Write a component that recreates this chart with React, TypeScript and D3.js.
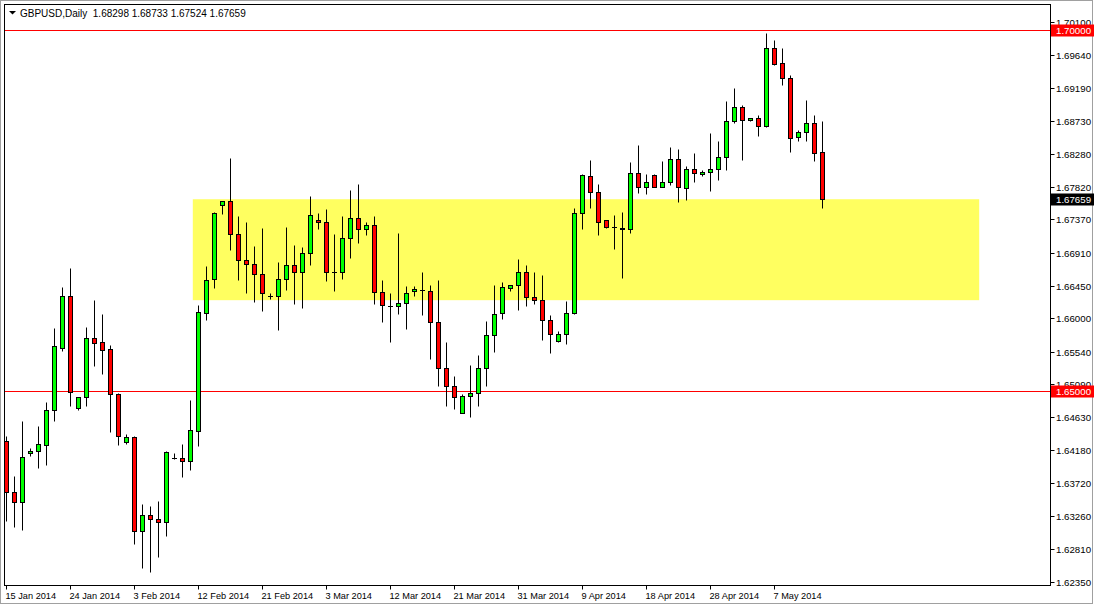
import * as d3 from 'd3'
import React from 'react'

const symbolTitle = 'GBPUSD,Daily'
const lastBar = ['1.68298', '1.68733', '1.67524', '1.67659']

// daily bars, 15 Jan 2014 .. 14 May 2014 (incl. sunday bars)
const opens = [
  1.64304, 1.6359, 1.63451, 1.64129, 1.64157, 1.6424, 1.64725, 1.65591, 1.66302, 1.64752,
  1.64905, 1.65721, 1.65666, 1.65569, 1.64946, 1.64282, 1.64351, 1.63058, 1.63271, 1.63216,
  1.63183, 1.64069, 1.6406, 1.64027, 1.64442, 1.66067, 1.66538, 1.67576, 1.67621, 1.67174,
  1.66814, 1.66759, 1.66607, 1.66307, 1.66302, 1.66538, 1.66745, 1.66648, 1.66898, 1.67368,
  1.6734, 1.66635, 1.66635, 1.67119, 1.67396, 1.6723, 1.67299, 1.66358, 1.66172, 1.66164,
  1.66206, 1.66372, 1.66394, 1.66385, 1.65943, 1.65306, 1.65057, 1.64683, 1.64918, 1.6496,
  1.65306, 1.65763, 1.66067, 1.66413, 1.66455, 1.66635, 1.66289, 1.66247, 1.6597, 1.65688,
  1.65776, 1.66067, 1.67465, 1.67977, 1.67756, 1.67368, 1.67266, 1.67257, 1.6723, 1.68019,
  1.67825, 1.67991, 1.67825, 1.67894, 1.68212, 1.67811, 1.68074, 1.68005, 1.68032, 1.68074,
  1.6824, 1.68738, 1.68932, 1.68752, 1.6878, 1.68669, 1.69749, 1.69541, 1.69333, 1.68517,
  1.68586, 1.68711, 1.68298,
]
const highs = [
  1.64373, 1.63811, 1.64572, 1.64203, 1.64507, 1.64835, 1.65864, 1.66435, 1.66694, 1.64909,
  1.65873, 1.66251, 1.66057, 1.65628, 1.6496, 1.64397, 1.64365, 1.63428, 1.634, 1.63469,
  1.64165, 1.64134, 1.64258, 1.64867, 1.66182, 1.66722, 1.67473, 1.67621, 1.68216, 1.67414,
  1.67331, 1.66999, 1.67248, 1.66344, 1.66777, 1.67262, 1.67022, 1.66985, 1.67691, 1.67455,
  1.67511, 1.67165, 1.67414, 1.67774, 1.67857, 1.67335, 1.67414, 1.66528, 1.66344, 1.67178,
  1.66445, 1.66445, 1.66648, 1.66468, 1.66528, 1.65666, 1.65195, 1.64946, 1.65347, 1.65486,
  1.65956, 1.66455, 1.66496, 1.66455, 1.66828, 1.66745, 1.66635, 1.66593, 1.66039, 1.65818,
  1.66233, 1.67534, 1.68005, 1.68198, 1.67866, 1.67368, 1.67437, 1.67479, 1.68171, 1.68406,
  1.68005, 1.68005, 1.68185, 1.68378, 1.68351, 1.68115, 1.68295, 1.6806, 1.68572, 1.68461,
  1.69005, 1.69195, 1.6895, 1.6878, 1.68821, 1.69956, 1.69859, 1.69749, 1.69375, 1.68614,
  1.69029, 1.68821, 1.68733,
]
const lows = [
  1.63197, 1.63114, 1.63072, 1.64096, 1.6393, 1.63972, 1.64577, 1.6555, 1.6478, 1.64725,
  1.6478, 1.65342, 1.65227, 1.64428, 1.64249, 1.64254, 1.62874, 1.62542, 1.62491, 1.62698,
  1.62989, 1.64051, 1.63806, 1.63903, 1.64235, 1.65979, 1.66421, 1.67446, 1.66947, 1.66532,
  1.66352, 1.66228, 1.66103, 1.66261, 1.65836, 1.66394, 1.662, 1.66145, 1.6674, 1.67238,
  1.66518, 1.6638, 1.66546, 1.66842, 1.67044, 1.67155, 1.662, 1.65951, 1.65666, 1.66053,
  1.65854, 1.66311, 1.66039, 1.65439, 1.65065, 1.6478, 1.64747, 1.64683, 1.64636, 1.64788,
  1.65065, 1.65536, 1.65984, 1.66372, 1.66109, 1.66172, 1.66192, 1.65693, 1.65514, 1.65674,
  1.65638, 1.66053, 1.6723, 1.67534, 1.6716, 1.67244, 1.66953, 1.66565, 1.67188, 1.67742,
  1.67728, 1.67825, 1.67825, 1.67852, 1.67617, 1.67645, 1.67894, 1.67977, 1.67764, 1.67916,
  1.68055, 1.68711, 1.68193, 1.68738, 1.68531, 1.68655, 1.69508, 1.69236, 1.68309, 1.68456,
  1.68461, 1.68185, 1.67524,
]
const closes = [
  1.6359, 1.63451, 1.64074, 1.64161, 1.64254, 1.64725, 1.6561, 1.66302, 1.64982, 1.64905,
  1.65721, 1.65652, 1.65555, 1.64946, 1.64365, 1.64351, 1.63058, 1.63271, 1.63216, 1.63183,
  1.64152, 1.64069, 1.64027, 1.64448, 1.66081, 1.66535, 1.67455, 1.67621, 1.67174, 1.66814,
  1.66759, 1.66607, 1.66352, 1.66307, 1.66538, 1.66745, 1.66648, 1.66898, 1.67437, 1.6734,
  1.66635, 1.66635, 1.67119, 1.67396, 1.6723, 1.67299, 1.66358, 1.66178, 1.66172, 1.66206,
  1.66344, 1.66399, 1.66394, 1.65943, 1.65306, 1.65057, 1.64913, 1.64918, 1.6496, 1.65306,
  1.65763, 1.66053, 1.66427, 1.66455, 1.66635, 1.66289, 1.66247, 1.6597, 1.65776, 1.65776,
  1.66067, 1.67465, 1.67991, 1.67756, 1.6734, 1.67271, 1.67266, 1.6723, 1.68019, 1.67825,
  1.67894, 1.67825, 1.67894, 1.68212, 1.67825, 1.68074, 1.68019, 1.68032, 1.68074, 1.6824,
  1.68738, 1.68932, 1.68752, 1.6878, 1.68669, 1.69749, 1.69527, 1.69333, 1.68503, 1.68586,
  1.68711, 1.68295, 1.67659,
]

const dateLabels = [
  '15 Jan 2014', '24 Jan 2014', '3 Feb 2014', '12 Feb 2014', '21 Feb 2014', '3 Mar 2014',
  '12 Mar 2014', '21 Mar 2014', '31 Mar 2014', '9 Apr 2014', '18 Apr 2014', '28 Apr 2014',
  '7 May 2014',
]
const dateLabelBars = [0, 8, 16, 24, 32, 40, 48, 56, 64, 72, 80, 88, 96]

const priceTicks = [
  '1.70100', '1.69640', '1.69190', '1.68730', '1.68280', '1.67820', '1.67370', '1.66910',
  '1.66450', '1.66000', '1.65540', '1.65090', '1.64630', '1.64180', '1.63720', '1.63260',
  '1.62810', '1.62350',
]

const hLines = [1.7, 1.65]
// support/resistance box (bar index start/end, price top/bottom)
const zoneBars = [23.35, 121.65]
const zonePrices = [1.67649, 1.66251]

const W = 1095
const H = 606
const plot = { left: 4.5, top: 4.5, right: 1050.5, bottom: 585.5 }
const font = '"Liberation Sans", Arial, sans-serif'
const axisFont = 9.7

const App: React.FC = () => {
  const x = d3.scaleLinear().domain([0, 102]).range([6, 822])
  const y = d3.scaleLinear().domain([1.65, 1.7]).range([390.5, 29.5])
  const px = (i: number) => Math.round(x(i)) + 0.5
  const py = (p: number) => Math.round(y(p)) + 0.5

  const lastClose = closes[closes.length - 1]

  return (
    <svg
      width={W}
      height={H}
      style={{ position: 'absolute', left: 0, top: 0, display: 'block', background: '#fff' }}
      fontFamily={font}
    >
      <defs>
        <clipPath id='plotClip'>
          <rect x={plot.left + 0.5} y={plot.top + 0.5} width={plot.right - plot.left - 1} height={plot.bottom - plot.top - 1} />
        </clipPath>
      </defs>
      <rect x={0} y={0} width={W} height={H} fill='#fff' />
      <rect x={0.5} y={0.5} width={1092} height={603} fill='none' stroke='#a0a0a0' />

      <g clipPath='url(#plotClip)'>
        <rect
          x={x(zoneBars[0])}
          y={y(zonePrices[0])}
          width={x(zoneBars[1]) - x(zoneBars[0])}
          height={y(zonePrices[1]) - y(zonePrices[0])}
          fill='#ffff60'
        />
        {hLines.map((p) => (
          <line key={p} x1={plot.left} x2={plot.right} y1={py(p)} y2={py(p)} stroke='#ff0000' />
        ))}
        {opens.map((o, i) => {
          const c = closes[i]
          const cx = px(i)
          const top = py(Math.max(o, c))
          const bot = py(Math.min(o, c))
          const doji = bot - top < 1
          return (
            <g key={i}>
              <line x1={cx} x2={cx} y1={py(highs[i])} y2={py(lows[i])} stroke='#000' />
              {doji ? (
                <line x1={cx - 2.5} x2={cx + 2.5} y1={top} y2={top} stroke='#000' />
              ) : (
                <rect
                  x={cx - 2}
                  y={top}
                  width={4}
                  height={bot - top}
                  fill={c > o ? '#00ff00' : '#ff0000'}
                  stroke='#000'
                />
              )}
            </g>
          )
        })}
      </g>

      <rect
        x={plot.left}
        y={plot.top}
        width={plot.right - plot.left}
        height={plot.bottom - plot.top}
        fill='none'
        stroke='#000'
      />

      {/* header */}
      <path d='M9,11 L16,11 L12.5,14.5 Z' fill='#000' />
      <text x={20} y={17} fontSize={10} fill='#000' style={{ whiteSpace: 'pre' }}>
        {`${symbolTitle}  ${lastBar.join(' ')}`}
      </text>

      {/* price axis */}
      {priceTicks.map((t) => {
        const ty = py(+t)
        return (
          <g key={t}>
            <line x1={plot.right} x2={plot.right + 4} y1={ty} y2={ty} stroke='#000' />
            <text x={1056} y={ty + 3.5} fontSize={axisFont} fill='#000'>
              {t}
            </text>
          </g>
        )
      })}
      {hLines.map((p) => (
        <g key={'lbl' + p}>
          <rect x={1051} y={py(p) - 6} width={43} height={12} fill='#ff0000' />
          <text x={1056} y={py(p) + 3.5} fontSize={axisFont} fill='#fff'>
            {d3.format('.5f')(p)}
          </text>
        </g>
      ))}
      <rect x={1051} y={py(lastClose) - 6} width={43} height={12} fill='#000' />
      <text x={1056} y={py(lastClose) + 3.5} fontSize={axisFont} fill='#fff'>
        {d3.format('.5f')(lastClose)}
      </text>

      {/* time axis */}
      {dateLabels.map((d, k) => {
        const tx = px(dateLabelBars[k])
        return (
          <g key={d}>
            <line x1={tx} x2={tx} y1={plot.bottom} y2={plot.bottom + 4} stroke='#000' />
            <text x={tx - 1} y={599} fontSize={9.2} fill='#000'>
              {d}
            </text>
          </g>
        )
      })}
    </svg>
  )
}

export default App
